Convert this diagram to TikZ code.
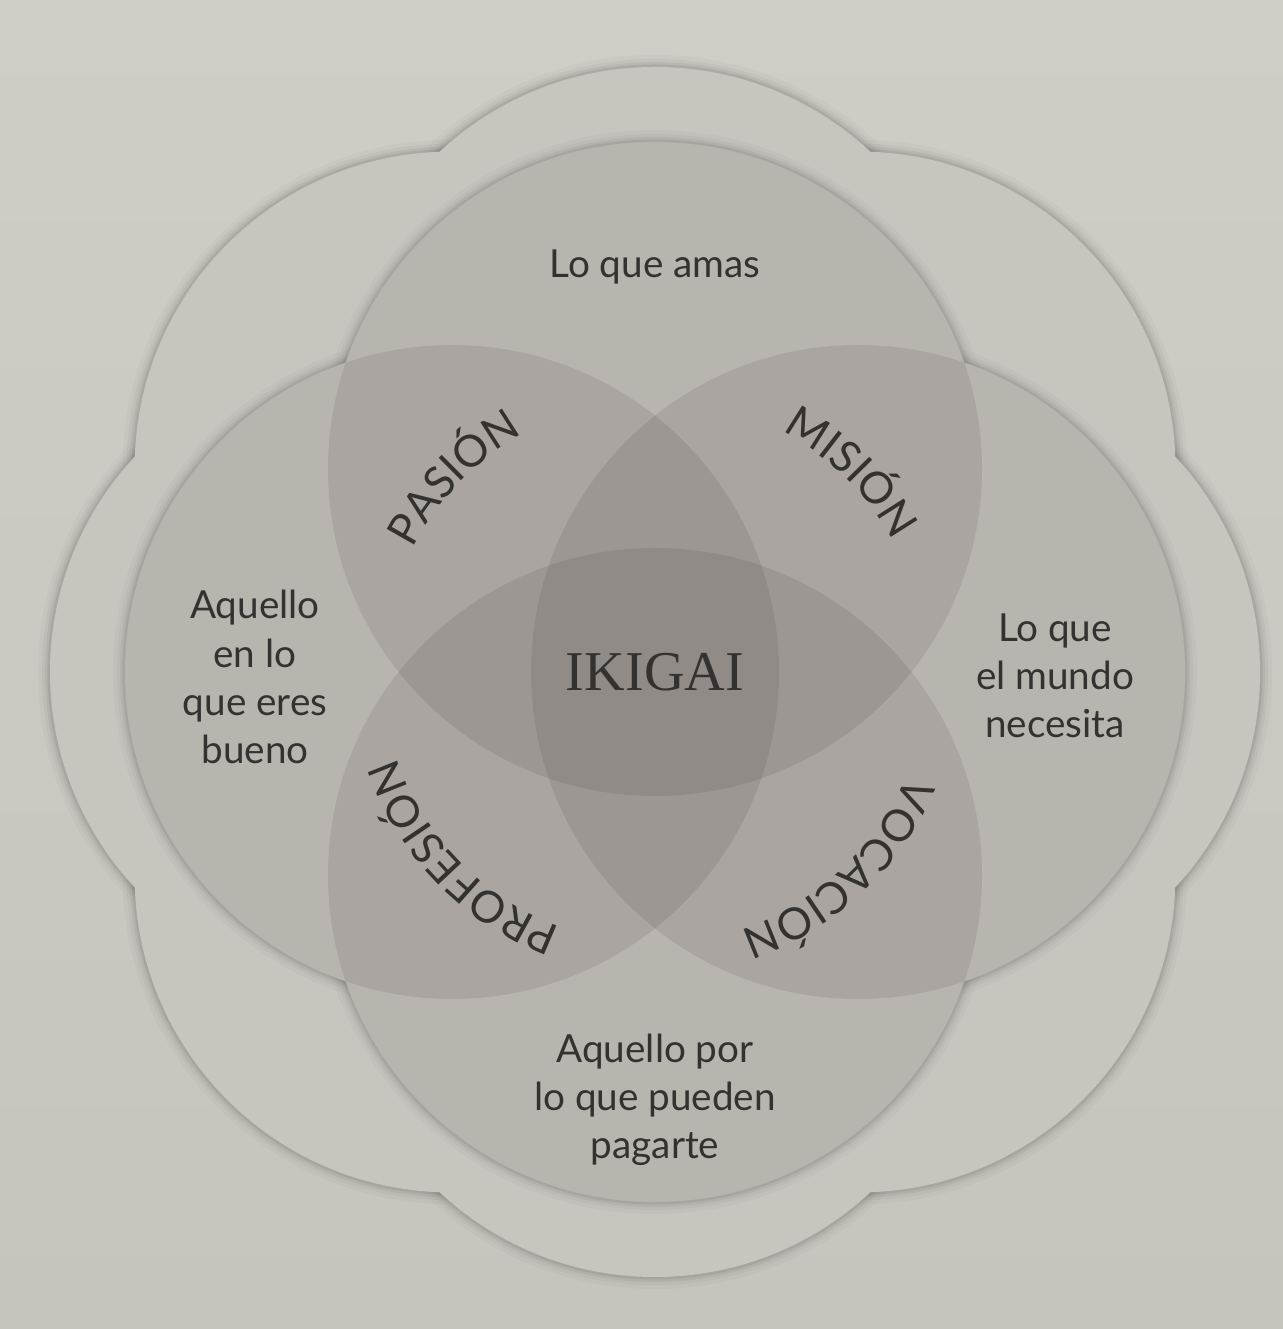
\documentclass[tikz,border=0pt]{standalone}
\usepackage{fontspec}
\setsansfont{Lato}
\newfontfamily\ikifont{Liberation Serif}
\usetikzlibrary{decorations.text}

\definecolor{papertop}{RGB}{207,205,198}
\definecolor{paperbot}{RGB}{199,196,189}
\definecolor{flowercol}{RGB}{199,197,190}
\definecolor{shadecol}{RGB}{40,25,30}
\definecolor{halocol}{RGB}{95,92,88}
\definecolor{ink}{RGB}{52,50,48}

\tikzset{
  lobe/.style={fill=flowercol},
  disc/.style={fill=shadecol, fill opacity=0.095},
  halo/.style={halocol},
  note/.style={font=\sffamily\fontsize{11}{13.7}\selectfont, text=ink, align=center},
  arclabel/.style={decorate, decoration={text along path, text align=center,
      text color=ink, text={|\sffamily\fontsize{12.5}{12.5}\selectfont|#1}}}
}

\begin{document}
\begin{tikzpicture}
    % define variables.
    \def\amas{(0,2.03)}
    \def\bueno{(-2.03,0)}
    \def\mundo{(2.03,0)}
    \def\pagar{(0,-2.03)}
    \def\rad{3.27}
    % the paper
    \useasboundingbox (-6.55,-6.57) rectangle (6.28,6.72);
    \shade[top color=papertop, bottom color=paperbot] (-6.55,-6.57) rectangle (6.28,6.72);
    % soft edge of the outer flower
    \foreach \w/\o in {0.24/0.04,0.16/0.06,0.10/0.09,0.05/0.14}
      \foreach \a in {0,45,...,315}
        \draw[halo, line width=\w cm, opacity=\o] (\a:2.89) circle (3.16);
    % the outer flower
    \foreach \a in {0,45,...,315}
      \fill[lobe] (\a:2.89) circle (3.16);
    % soft edge of the four circles
    \foreach \w/\o in {0.24/0.04,0.16/0.06,0.10/0.09,0.05/0.14}
      \foreach \a in {0,90,180,270}
        \draw[halo, line width=\w cm, opacity=\o] (\a:2.03) circle (\rad);
    \foreach \a in {0,90,180,270}
      \fill[lobe] (\a:2.03) circle (\rad);
    % the four circles
    \fill[disc] \amas circle (\rad);
    \fill[disc] \bueno circle (\rad);
    \fill[disc] \mundo circle (\rad);
    \fill[disc] \pagar circle (\rad);
    % the texts
    \node[note] (amas) at (0,4.05) {Lo que amas};
    \node[note] (bueno) at (-4.00,-0.05) {Aquello\\en lo\\que eres\\bueno};
    \node[note] (mundo) at (4.00,-0.04) {Lo que\\el mundo\\necesita};
    \node[note] (pagar) at (0,-4.28) {Aquello por\\lo que pueden\\pagarte};
    \node[text=ink, font=\ikifont\fontsize{16}{16}\selectfont] (ikigai) at (0,0) {IKIGAI};
    % the words round the middle
    \path[arclabel=PASIÓN] (181:2.72) arc[start angle=181, end angle=91, radius=2.72];
    \path[arclabel=MISIÓN] (90.5:2.72) arc[start angle=90.5, end angle=0.5, radius=2.72];
    \path[arclabel=PROFESIÓN] (269:2.72) arc[start angle=269, end angle=179, radius=2.72];
    \path[arclabel=VOCACIÓN] (358:2.72) arc[start angle=358, end angle=268, radius=2.72];
\end{tikzpicture}
\end{document}
